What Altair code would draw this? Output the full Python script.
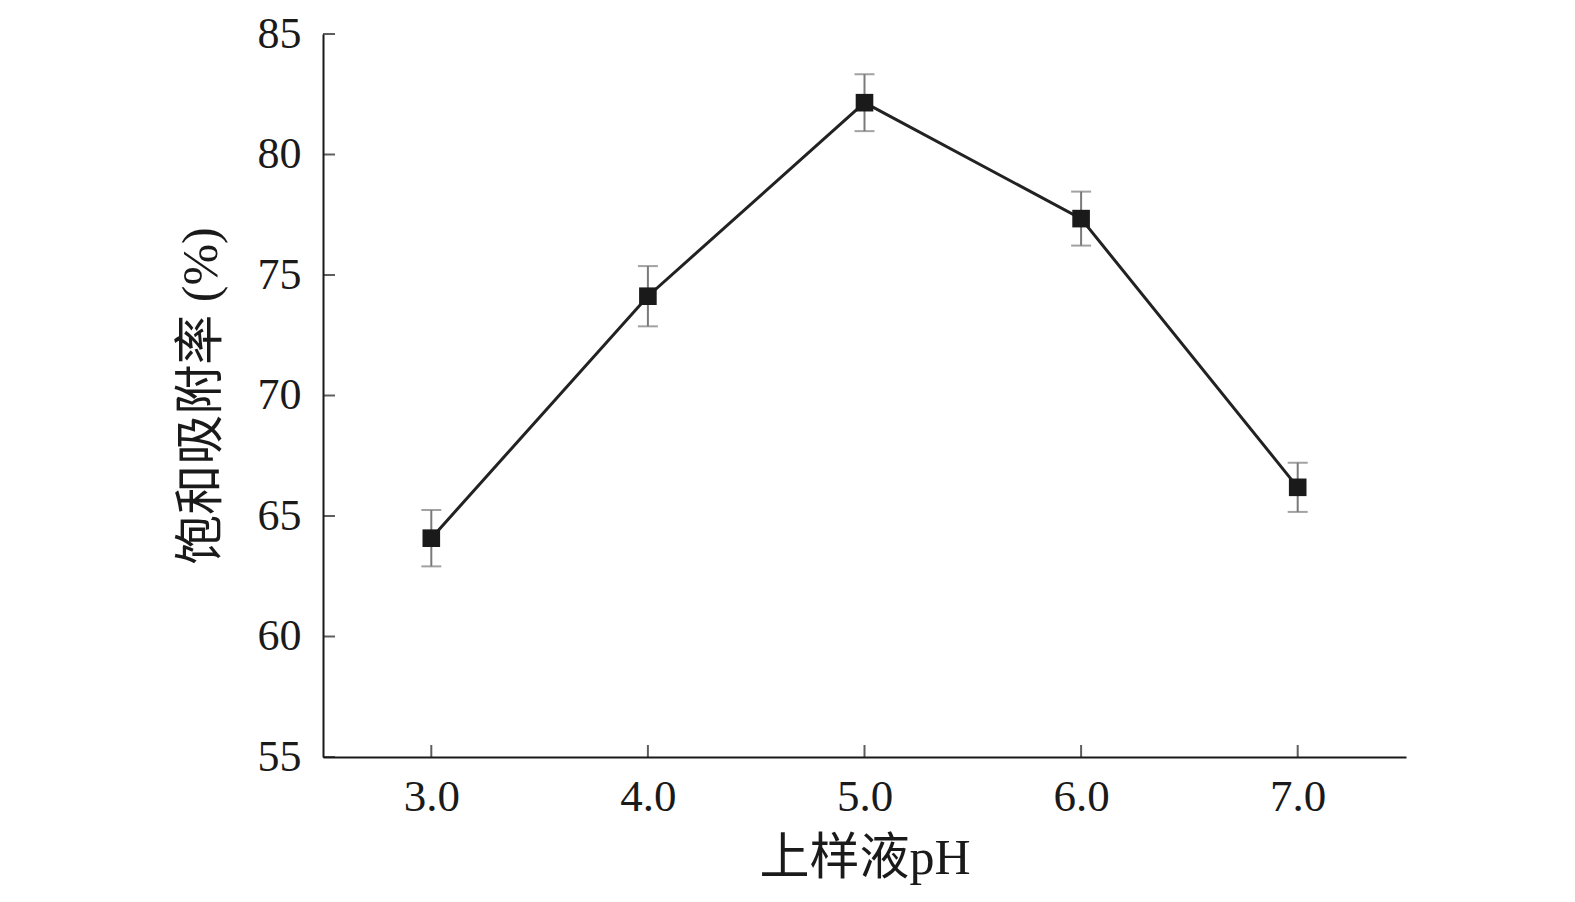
import altair as alt
import pandas as pd

ph = [3.0, 4.0, 5.0, 6.0, 7.0]
rate = [64.08, 74.12, 82.15, 77.34, 66.19]
err = [1.17, 1.25, 1.18, 1.12, 1.02]

x_ticks = [3.0, 4.0, 5.0, 6.0, 7.0]
y_ticks = [55, 60, 65, 70, 75, 80, 85]

df = pd.DataFrame({
    "ph": ph,
    "rate": rate,
    "lo": [r - e for r, e in zip(rate, err)],
    "hi": [r + e for r, e in zip(rate, err)],
})
xt = pd.DataFrame({"ph": x_ticks, "rate": [55] * len(x_ticks)})
yt = pd.DataFrame({"ph": [2.5] * len(y_ticks), "rate": y_ticks})

FONT = "Liberation Serif, Times New Roman, Noto Sans CJK SC"

xs = alt.Scale(domain=[2.5, 7.5], nice=False, zero=False)
ys = alt.Scale(domain=[55, 85], nice=False, zero=False)

xax = alt.Axis(
    title="上样液pH", values=x_ticks, format=".1f", ticks=False, grid=False,
    domainColor="#1a1a1a", domainWidth=2, labelFont=FONT, labelFontSize=45,
    labelColor="#1a1a1a", labelPadding=17, titleFont=FONT, titleFontSize=50,
    titleFontWeight="normal", titleColor="#1a1a1a", titlePadding=14,
)
yax = alt.Axis(
    title="饱和吸附率 (%)", values=y_ticks, ticks=False, grid=False,
    domainColor="#1a1a1a", domainWidth=2, labelFont=FONT, labelFontSize=44,
    labelColor="#1a1a1a", labelPadding=22, titleFont=FONT, titleFontSize=50,
    titleFontWeight="normal", titleColor="#1a1a1a", titlePadding=31,
)

base = alt.Chart(df)

line = base.mark_line(color="#222222", strokeWidth=3).encode(
    x=alt.X("ph:Q", scale=xs, axis=xax),
    y=alt.Y("rate:Q", scale=ys, axis=yax),
)
bars = base.mark_rule(color="#7a7a7a", strokeWidth=2).encode(
    x=alt.X("ph:Q", scale=xs), y=alt.Y("lo:Q", scale=ys), y2="hi:Q"
)
cap_lo = base.mark_tick(color="#7a7a7a", orient="horizontal", size=20, thickness=2).encode(
    x=alt.X("ph:Q", scale=xs), y=alt.Y("lo:Q", scale=ys)
)
cap_hi = base.mark_tick(color="#7a7a7a", orient="horizontal", size=20, thickness=2).encode(
    x=alt.X("ph:Q", scale=xs), y=alt.Y("hi:Q", scale=ys)
)
pts = base.mark_square(color="#1a1a1a", size=310, opacity=1, filled=True).encode(
    x=alt.X("ph:Q", scale=xs), y=alt.Y("rate:Q", scale=ys)
)
xtick = alt.Chart(xt).mark_tick(color="#1a1a1a", orient="vertical", size=12, thickness=2, yOffset=-6).encode(
    x=alt.X("ph:Q", scale=xs), y=alt.Y("rate:Q", scale=ys)
)
ytick = alt.Chart(yt).mark_tick(color="#1a1a1a", orient="horizontal", size=12, thickness=2, xOffset=6).encode(
    x=alt.X("ph:Q", scale=xs), y=alt.Y("rate:Q", scale=ys)
)

chart = alt.layer(line, bars, cap_lo, cap_hi, pts, xtick, ytick).properties(
    width=1083, height=723,
    autosize=alt.AutoSizeParams(type="none"),
    padding={"left": 315, "top": 26, "right": 150, "bottom": 130},
).configure(
    background="white",
    view=alt.ViewConfig(stroke="transparent", strokeWidth=0),
)

chart.save("out.html", embed_options={"renderer": "svg", "actions": False})
